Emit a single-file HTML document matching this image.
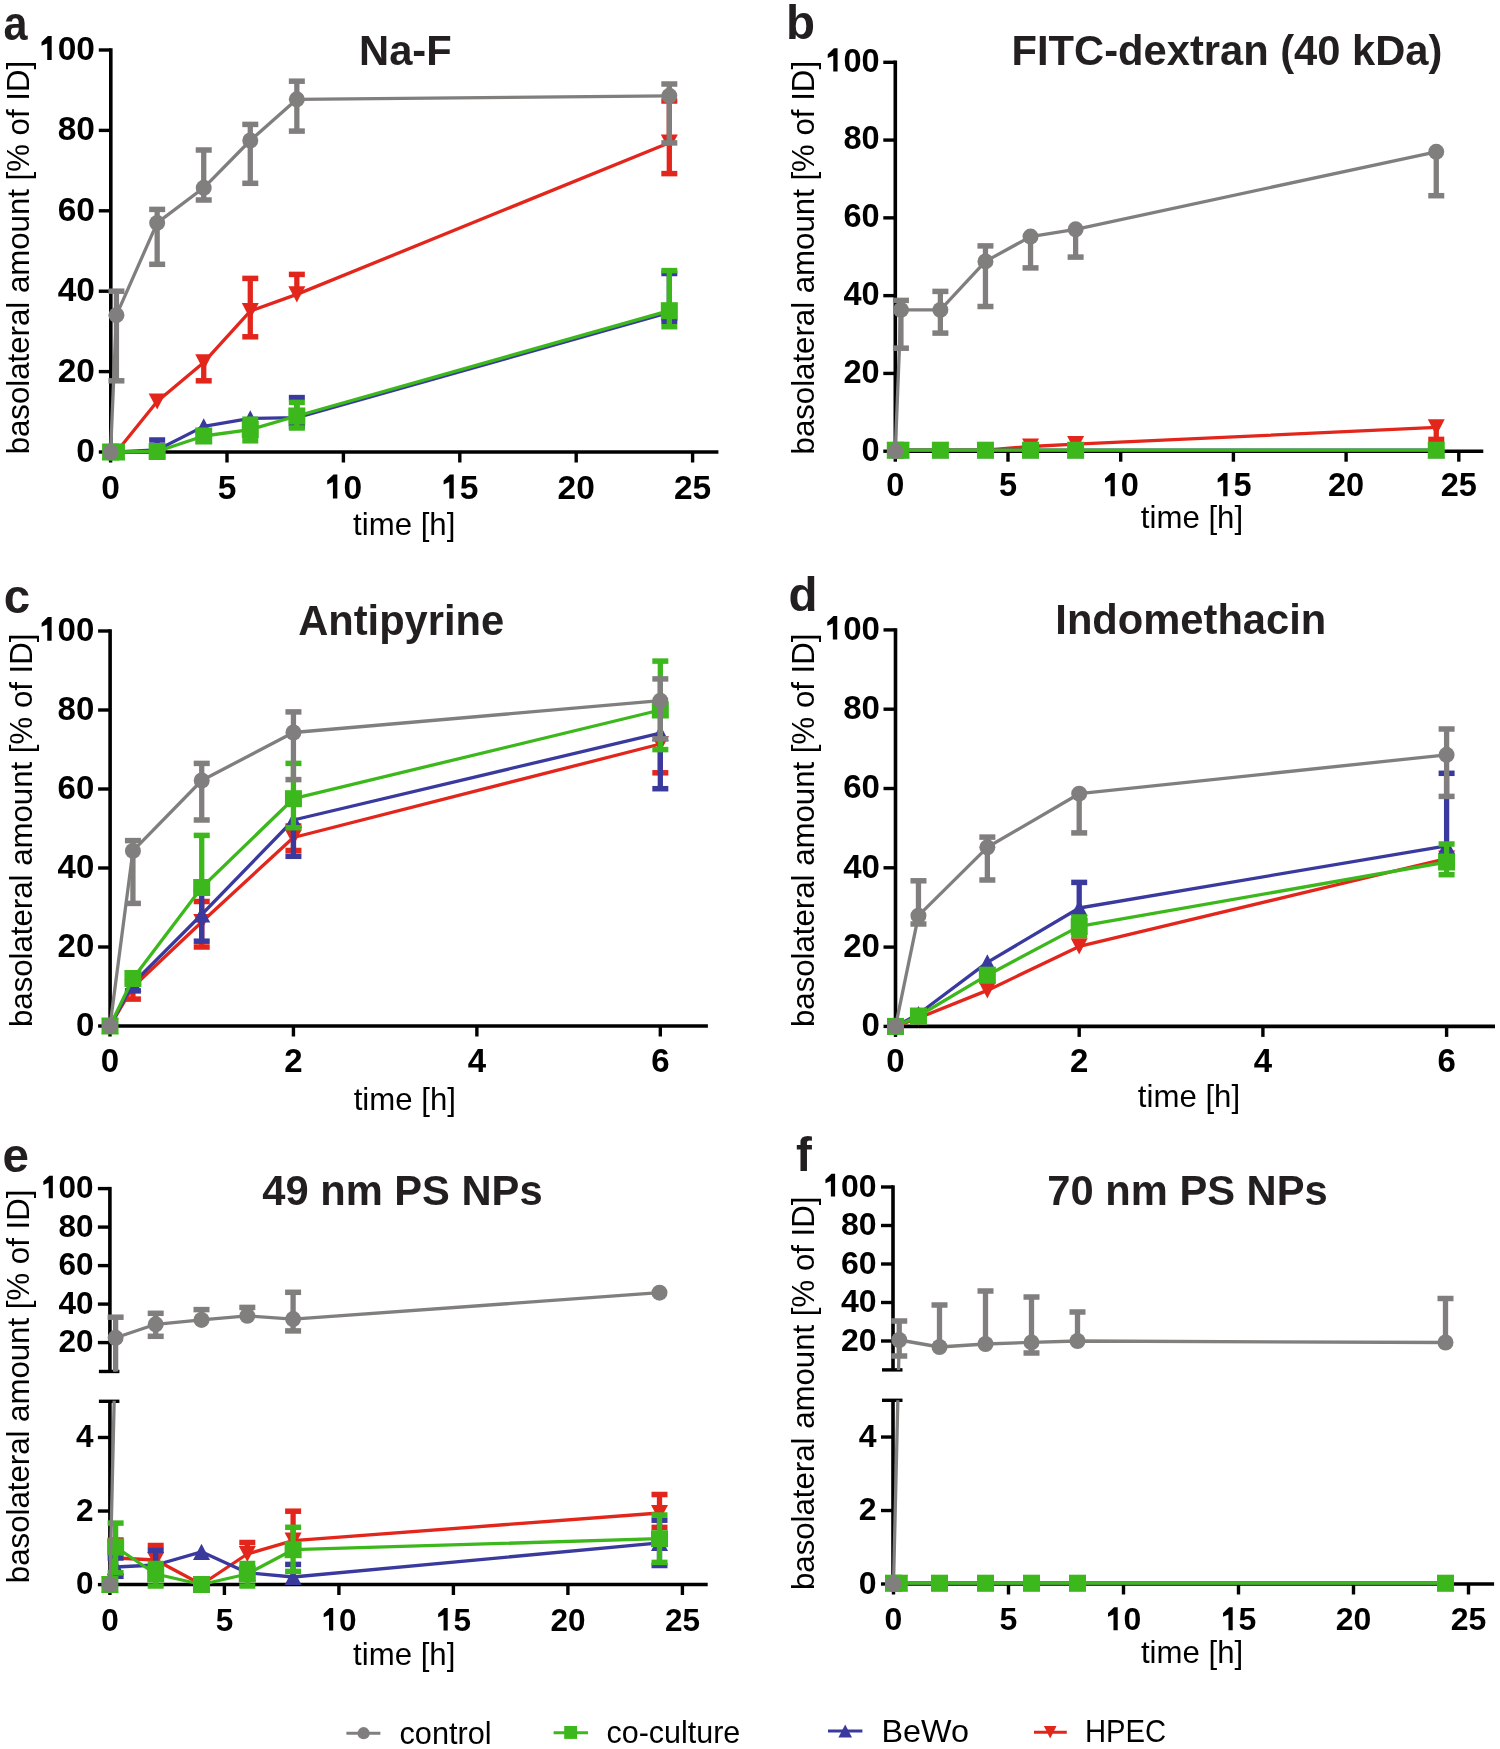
<!DOCTYPE html>
<html><head><meta charset="utf-8"><title>Figure</title><style>html,body{margin:0;padding:0;background:#fff;}svg{display:block;}text{font-family:"Liberation Sans",sans-serif;}</style></head><body>
<svg style="will-change:transform" width="1500" height="1749" viewBox="0 0 1500 1749">
<rect width="1500" height="1749" fill="#fff"/>
<defs><clipPath id="eT"><rect x="0" y="1100" width="750" height="271.47"/></clipPath><clipPath id="eB"><rect x="0" y="1400.7" width="750" height="300"/></clipPath><clipPath id="fT"><rect x="750" y="1100" width="750" height="269.88"/></clipPath><clipPath id="fB"><rect x="750" y="1400.3" width="750" height="300"/></clipPath></defs>
<line x1="110.8" y1="48.3" x2="110.8" y2="452" stroke="#000" stroke-width="3.6"/><line x1="109" y1="452" x2="718.4" y2="452" stroke="#000" stroke-width="3.6"/><line x1="98.8" y1="452" x2="110.8" y2="452" stroke="#000" stroke-width="3.4"/><text x="76.37" y="461.9" font-size="33.5" font-weight="bold" fill="#000">0</text><line x1="98.8" y1="371.6" x2="110.8" y2="371.6" stroke="#000" stroke-width="3.4"/><text x="57.73" y="381.5" font-size="33.5" font-weight="bold" fill="#000">2</text><text x="76.37" y="381.5" font-size="33.5" font-weight="bold" fill="#000">0</text><line x1="98.8" y1="291.2" x2="110.8" y2="291.2" stroke="#000" stroke-width="3.4"/><text x="57.73" y="301.1" font-size="33.5" font-weight="bold" fill="#000">4</text><text x="76.37" y="301.1" font-size="33.5" font-weight="bold" fill="#000">0</text><line x1="98.8" y1="210.8" x2="110.8" y2="210.8" stroke="#000" stroke-width="3.4"/><text x="57.73" y="220.7" font-size="33.5" font-weight="bold" fill="#000">6</text><text x="76.37" y="220.7" font-size="33.5" font-weight="bold" fill="#000">0</text><line x1="98.8" y1="130.4" x2="110.8" y2="130.4" stroke="#000" stroke-width="3.4"/><text x="57.73" y="140.3" font-size="33.5" font-weight="bold" fill="#000">8</text><text x="76.37" y="140.3" font-size="33.5" font-weight="bold" fill="#000">0</text><line x1="98.8" y1="50" x2="110.8" y2="50" stroke="#000" stroke-width="3.4"/><path transform="translate(39.1 59.9) scale(33.5)" d="M0.375 0L0.375 -0.716L0.262 -0.716L0.073 -0.535L0.073 -0.42L0.243 -0.49L0.243 0Z" fill="#000"/><text x="57.73" y="59.9" font-size="33.5" font-weight="bold" fill="#000">0</text><text x="76.37" y="59.9" font-size="33.5" font-weight="bold" fill="#000">0</text><line x1="110.6" y1="452" x2="110.6" y2="462.5" stroke="#000" stroke-width="3.4"/><text x="101.28" y="498.5" font-size="33.5" font-weight="bold" fill="#000">0</text><line x1="227" y1="452" x2="227" y2="462.5" stroke="#000" stroke-width="3.4"/><text x="217.68" y="498.5" font-size="33.5" font-weight="bold" fill="#000">5</text><line x1="343.4" y1="452" x2="343.4" y2="462.5" stroke="#000" stroke-width="3.4"/><path transform="translate(324.77 498.5) scale(33.5)" d="M0.375 0L0.375 -0.716L0.262 -0.716L0.073 -0.535L0.073 -0.42L0.243 -0.49L0.243 0Z" fill="#000"/><text x="343.4" y="498.5" font-size="33.5" font-weight="bold" fill="#000">0</text><line x1="459.8" y1="452" x2="459.8" y2="462.5" stroke="#000" stroke-width="3.4"/><path transform="translate(441.17 498.5) scale(33.5)" d="M0.375 0L0.375 -0.716L0.262 -0.716L0.073 -0.535L0.073 -0.42L0.243 -0.49L0.243 0Z" fill="#000"/><text x="459.8" y="498.5" font-size="33.5" font-weight="bold" fill="#000">5</text><line x1="576.2" y1="452" x2="576.2" y2="462.5" stroke="#000" stroke-width="3.4"/><text x="557.57" y="498.5" font-size="33.5" font-weight="bold" fill="#000">2</text><text x="576.2" y="498.5" font-size="33.5" font-weight="bold" fill="#000">0</text><line x1="692.6" y1="452" x2="692.6" y2="462.5" stroke="#000" stroke-width="3.4"/><text x="673.97" y="498.5" font-size="33.5" font-weight="bold" fill="#000">2</text><text x="692.6" y="498.5" font-size="33.5" font-weight="bold" fill="#000">5</text>
<line x1="895.3" y1="60.6" x2="895.3" y2="451.2" stroke="#000" stroke-width="3.6"/><line x1="893.5" y1="451.2" x2="1483.3" y2="451.2" stroke="#000" stroke-width="3.6"/><line x1="883.3" y1="451.2" x2="895.3" y2="451.2" stroke="#000" stroke-width="3.4"/><text x="861.52" y="460.5" font-size="32.5" font-weight="bold" fill="#000">0</text><line x1="883.3" y1="373.42" x2="895.3" y2="373.42" stroke="#000" stroke-width="3.4"/><text x="843.45" y="382.72" font-size="32.5" font-weight="bold" fill="#000">2</text><text x="861.52" y="382.72" font-size="32.5" font-weight="bold" fill="#000">0</text><line x1="883.3" y1="295.64" x2="895.3" y2="295.64" stroke="#000" stroke-width="3.4"/><text x="843.45" y="304.94" font-size="32.5" font-weight="bold" fill="#000">4</text><text x="861.52" y="304.94" font-size="32.5" font-weight="bold" fill="#000">0</text><line x1="883.3" y1="217.86" x2="895.3" y2="217.86" stroke="#000" stroke-width="3.4"/><text x="843.45" y="227.16" font-size="32.5" font-weight="bold" fill="#000">6</text><text x="861.52" y="227.16" font-size="32.5" font-weight="bold" fill="#000">0</text><line x1="883.3" y1="140.08" x2="895.3" y2="140.08" stroke="#000" stroke-width="3.4"/><text x="843.45" y="149.38" font-size="32.5" font-weight="bold" fill="#000">8</text><text x="861.52" y="149.38" font-size="32.5" font-weight="bold" fill="#000">0</text><line x1="883.3" y1="62.3" x2="895.3" y2="62.3" stroke="#000" stroke-width="3.4"/><path transform="translate(825.37 71.6) scale(32.5)" d="M0.375 0L0.375 -0.716L0.262 -0.716L0.073 -0.535L0.073 -0.42L0.243 -0.49L0.243 0Z" fill="#000"/><text x="843.45" y="71.6" font-size="32.5" font-weight="bold" fill="#000">0</text><text x="861.52" y="71.6" font-size="32.5" font-weight="bold" fill="#000">0</text><line x1="895.3" y1="451.2" x2="895.3" y2="461.7" stroke="#000" stroke-width="3.4"/><text x="886.26" y="496.2" font-size="32.5" font-weight="bold" fill="#000">0</text><line x1="1008" y1="451.2" x2="1008" y2="461.7" stroke="#000" stroke-width="3.4"/><text x="998.96" y="496.2" font-size="32.5" font-weight="bold" fill="#000">5</text><line x1="1120.7" y1="451.2" x2="1120.7" y2="461.7" stroke="#000" stroke-width="3.4"/><path transform="translate(1102.62 496.2) scale(32.5)" d="M0.375 0L0.375 -0.716L0.262 -0.716L0.073 -0.535L0.073 -0.42L0.243 -0.49L0.243 0Z" fill="#000"/><text x="1120.7" y="496.2" font-size="32.5" font-weight="bold" fill="#000">0</text><line x1="1233.4" y1="451.2" x2="1233.4" y2="461.7" stroke="#000" stroke-width="3.4"/><path transform="translate(1215.32 496.2) scale(32.5)" d="M0.375 0L0.375 -0.716L0.262 -0.716L0.073 -0.535L0.073 -0.42L0.243 -0.49L0.243 0Z" fill="#000"/><text x="1233.4" y="496.2" font-size="32.5" font-weight="bold" fill="#000">5</text><line x1="1346.1" y1="451.2" x2="1346.1" y2="461.7" stroke="#000" stroke-width="3.4"/><text x="1328.02" y="496.2" font-size="32.5" font-weight="bold" fill="#000">2</text><text x="1346.1" y="496.2" font-size="32.5" font-weight="bold" fill="#000">0</text><line x1="1458.8" y1="451.2" x2="1458.8" y2="461.7" stroke="#000" stroke-width="3.4"/><text x="1440.72" y="496.2" font-size="32.5" font-weight="bold" fill="#000">2</text><text x="1458.8" y="496.2" font-size="32.5" font-weight="bold" fill="#000">5</text>
<line x1="110.1" y1="629.3" x2="110.1" y2="1026" stroke="#000" stroke-width="3.6"/><line x1="108.3" y1="1026" x2="707.9" y2="1026" stroke="#000" stroke-width="3.6"/><line x1="98.1" y1="1026" x2="110.1" y2="1026" stroke="#000" stroke-width="3.4"/><text x="75.95" y="1035.7" font-size="33" font-weight="bold" fill="#000">0</text><line x1="98.1" y1="947" x2="110.1" y2="947" stroke="#000" stroke-width="3.4"/><text x="57.59" y="956.7" font-size="33" font-weight="bold" fill="#000">2</text><text x="75.95" y="956.7" font-size="33" font-weight="bold" fill="#000">0</text><line x1="98.1" y1="868" x2="110.1" y2="868" stroke="#000" stroke-width="3.4"/><text x="57.59" y="877.7" font-size="33" font-weight="bold" fill="#000">4</text><text x="75.95" y="877.7" font-size="33" font-weight="bold" fill="#000">0</text><line x1="98.1" y1="789" x2="110.1" y2="789" stroke="#000" stroke-width="3.4"/><text x="57.59" y="798.7" font-size="33" font-weight="bold" fill="#000">6</text><text x="75.95" y="798.7" font-size="33" font-weight="bold" fill="#000">0</text><line x1="98.1" y1="710" x2="110.1" y2="710" stroke="#000" stroke-width="3.4"/><text x="57.59" y="719.7" font-size="33" font-weight="bold" fill="#000">8</text><text x="75.95" y="719.7" font-size="33" font-weight="bold" fill="#000">0</text><line x1="98.1" y1="631" x2="110.1" y2="631" stroke="#000" stroke-width="3.4"/><path transform="translate(39.24 640.7) scale(33)" d="M0.375 0L0.375 -0.716L0.262 -0.716L0.073 -0.535L0.073 -0.42L0.243 -0.49L0.243 0Z" fill="#000"/><text x="57.59" y="640.7" font-size="33" font-weight="bold" fill="#000">0</text><text x="75.95" y="640.7" font-size="33" font-weight="bold" fill="#000">0</text><line x1="110" y1="1026" x2="110" y2="1036.5" stroke="#000" stroke-width="3.4"/><text x="100.82" y="1072" font-size="33" font-weight="bold" fill="#000">0</text><line x1="293.44" y1="1026" x2="293.44" y2="1036.5" stroke="#000" stroke-width="3.4"/><text x="284.26" y="1072" font-size="33" font-weight="bold" fill="#000">2</text><line x1="476.88" y1="1026" x2="476.88" y2="1036.5" stroke="#000" stroke-width="3.4"/><text x="467.7" y="1072" font-size="33" font-weight="bold" fill="#000">4</text><line x1="660.32" y1="1026" x2="660.32" y2="1036.5" stroke="#000" stroke-width="3.4"/><text x="651.14" y="1072" font-size="33" font-weight="bold" fill="#000">6</text>
<line x1="895.5" y1="628.2" x2="895.5" y2="1026.4" stroke="#000" stroke-width="3.6"/><line x1="893.7" y1="1026.4" x2="1495" y2="1026.4" stroke="#000" stroke-width="3.6"/><line x1="883.5" y1="1026.4" x2="895.5" y2="1026.4" stroke="#000" stroke-width="3.4"/><text x="861.55" y="1036.1" font-size="33" font-weight="bold" fill="#000">0</text><line x1="883.5" y1="947.1" x2="895.5" y2="947.1" stroke="#000" stroke-width="3.4"/><text x="843.19" y="956.8" font-size="33" font-weight="bold" fill="#000">2</text><text x="861.55" y="956.8" font-size="33" font-weight="bold" fill="#000">0</text><line x1="883.5" y1="867.8" x2="895.5" y2="867.8" stroke="#000" stroke-width="3.4"/><text x="843.19" y="877.5" font-size="33" font-weight="bold" fill="#000">4</text><text x="861.55" y="877.5" font-size="33" font-weight="bold" fill="#000">0</text><line x1="883.5" y1="788.5" x2="895.5" y2="788.5" stroke="#000" stroke-width="3.4"/><text x="843.19" y="798.2" font-size="33" font-weight="bold" fill="#000">6</text><text x="861.55" y="798.2" font-size="33" font-weight="bold" fill="#000">0</text><line x1="883.5" y1="709.2" x2="895.5" y2="709.2" stroke="#000" stroke-width="3.4"/><text x="843.19" y="718.9" font-size="33" font-weight="bold" fill="#000">8</text><text x="861.55" y="718.9" font-size="33" font-weight="bold" fill="#000">0</text><line x1="883.5" y1="629.9" x2="895.5" y2="629.9" stroke="#000" stroke-width="3.4"/><path transform="translate(824.84 639.6) scale(33)" d="M0.375 0L0.375 -0.716L0.262 -0.716L0.073 -0.535L0.073 -0.42L0.243 -0.49L0.243 0Z" fill="#000"/><text x="843.19" y="639.6" font-size="33" font-weight="bold" fill="#000">0</text><text x="861.55" y="639.6" font-size="33" font-weight="bold" fill="#000">0</text><line x1="895.5" y1="1026.4" x2="895.5" y2="1036.9" stroke="#000" stroke-width="3.4"/><text x="886.32" y="1072" font-size="33" font-weight="bold" fill="#000">0</text><line x1="1079.2" y1="1026.4" x2="1079.2" y2="1036.9" stroke="#000" stroke-width="3.4"/><text x="1070.02" y="1072" font-size="33" font-weight="bold" fill="#000">2</text><line x1="1262.9" y1="1026.4" x2="1262.9" y2="1036.9" stroke="#000" stroke-width="3.4"/><text x="1253.72" y="1072" font-size="33" font-weight="bold" fill="#000">4</text><line x1="1446.6" y1="1026.4" x2="1446.6" y2="1036.9" stroke="#000" stroke-width="3.4"/><text x="1437.42" y="1072" font-size="33" font-weight="bold" fill="#000">6</text>
<line x1="109.9" y1="1186.9" x2="109.9" y2="1371.47" stroke="#000" stroke-width="3.6"/><line x1="109.9" y1="1401.3" x2="109.9" y2="1584.5" stroke="#000" stroke-width="3.6"/><line x1="108.1" y1="1584.5" x2="707.7" y2="1584.5" stroke="#000" stroke-width="3.6"/><line x1="97.9" y1="1342.6" x2="109.9" y2="1342.6" stroke="#000" stroke-width="3.4"/><text x="58.56" y="1352.2" font-size="31.5" font-weight="bold" fill="#000">2</text><text x="76.08" y="1352.2" font-size="31.5" font-weight="bold" fill="#000">0</text><line x1="97.9" y1="1304.1" x2="109.9" y2="1304.1" stroke="#000" stroke-width="3.4"/><text x="58.56" y="1313.7" font-size="31.5" font-weight="bold" fill="#000">4</text><text x="76.08" y="1313.7" font-size="31.5" font-weight="bold" fill="#000">0</text><line x1="97.9" y1="1265.6" x2="109.9" y2="1265.6" stroke="#000" stroke-width="3.4"/><text x="58.56" y="1275.2" font-size="31.5" font-weight="bold" fill="#000">6</text><text x="76.08" y="1275.2" font-size="31.5" font-weight="bold" fill="#000">0</text><line x1="97.9" y1="1227.1" x2="109.9" y2="1227.1" stroke="#000" stroke-width="3.4"/><text x="58.56" y="1236.7" font-size="31.5" font-weight="bold" fill="#000">8</text><text x="76.08" y="1236.7" font-size="31.5" font-weight="bold" fill="#000">0</text><line x1="97.9" y1="1188.6" x2="109.9" y2="1188.6" stroke="#000" stroke-width="3.4"/><path transform="translate(41.04 1198.2) scale(31.5)" d="M0.375 0L0.375 -0.716L0.262 -0.716L0.073 -0.535L0.073 -0.42L0.243 -0.49L0.243 0Z" fill="#000"/><text x="58.56" y="1198.2" font-size="31.5" font-weight="bold" fill="#000">0</text><text x="76.08" y="1198.2" font-size="31.5" font-weight="bold" fill="#000">0</text><line x1="97.9" y1="1584.6" x2="109.9" y2="1584.6" stroke="#000" stroke-width="3.4"/><text x="76.08" y="1594.2" font-size="31.5" font-weight="bold" fill="#000">0</text><line x1="97.9" y1="1511.04" x2="109.9" y2="1511.04" stroke="#000" stroke-width="3.4"/><text x="76.08" y="1520.64" font-size="31.5" font-weight="bold" fill="#000">2</text><line x1="97.9" y1="1437.48" x2="109.9" y2="1437.48" stroke="#000" stroke-width="3.4"/><text x="76.08" y="1447.08" font-size="31.5" font-weight="bold" fill="#000">4</text><line x1="98.9" y1="1371.47" x2="119.4" y2="1371.47" stroke="#000" stroke-width="3.4"/><line x1="98.9" y1="1401.3" x2="119.4" y2="1401.3" stroke="#000" stroke-width="3.4"/><line x1="109.9" y1="1584.5" x2="109.9" y2="1595" stroke="#000" stroke-width="3.4"/><text x="101.14" y="1630.5" font-size="31.5" font-weight="bold" fill="#000">0</text><line x1="224.4" y1="1584.5" x2="224.4" y2="1595" stroke="#000" stroke-width="3.4"/><text x="215.64" y="1630.5" font-size="31.5" font-weight="bold" fill="#000">5</text><line x1="338.9" y1="1584.5" x2="338.9" y2="1595" stroke="#000" stroke-width="3.4"/><path transform="translate(321.38 1630.5) scale(31.5)" d="M0.375 0L0.375 -0.716L0.262 -0.716L0.073 -0.535L0.073 -0.42L0.243 -0.49L0.243 0Z" fill="#000"/><text x="338.9" y="1630.5" font-size="31.5" font-weight="bold" fill="#000">0</text><line x1="453.4" y1="1584.5" x2="453.4" y2="1595" stroke="#000" stroke-width="3.4"/><path transform="translate(435.88 1630.5) scale(31.5)" d="M0.375 0L0.375 -0.716L0.262 -0.716L0.073 -0.535L0.073 -0.42L0.243 -0.49L0.243 0Z" fill="#000"/><text x="453.4" y="1630.5" font-size="31.5" font-weight="bold" fill="#000">5</text><line x1="567.9" y1="1584.5" x2="567.9" y2="1595" stroke="#000" stroke-width="3.4"/><text x="550.38" y="1630.5" font-size="31.5" font-weight="bold" fill="#000">2</text><text x="567.9" y="1630.5" font-size="31.5" font-weight="bold" fill="#000">0</text><line x1="682.4" y1="1584.5" x2="682.4" y2="1595" stroke="#000" stroke-width="3.4"/><text x="664.88" y="1630.5" font-size="31.5" font-weight="bold" fill="#000">2</text><text x="682.4" y="1630.5" font-size="31.5" font-weight="bold" fill="#000">5</text>
<line x1="893" y1="1185.3" x2="893" y2="1369.88" stroke="#000" stroke-width="3.6"/><line x1="893" y1="1400.3" x2="893" y2="1584" stroke="#000" stroke-width="3.6"/><line x1="891.2" y1="1584" x2="1494.1" y2="1584" stroke="#000" stroke-width="3.6"/><line x1="881" y1="1341" x2="893" y2="1341" stroke="#000" stroke-width="3.4"/><text x="840.9" y="1350.6" font-size="32" font-weight="bold" fill="#000">2</text><text x="858.7" y="1350.6" font-size="32" font-weight="bold" fill="#000">0</text><line x1="881" y1="1302.5" x2="893" y2="1302.5" stroke="#000" stroke-width="3.4"/><text x="840.9" y="1312.1" font-size="32" font-weight="bold" fill="#000">4</text><text x="858.7" y="1312.1" font-size="32" font-weight="bold" fill="#000">0</text><line x1="881" y1="1264" x2="893" y2="1264" stroke="#000" stroke-width="3.4"/><text x="840.9" y="1273.6" font-size="32" font-weight="bold" fill="#000">6</text><text x="858.7" y="1273.6" font-size="32" font-weight="bold" fill="#000">0</text><line x1="881" y1="1225.5" x2="893" y2="1225.5" stroke="#000" stroke-width="3.4"/><text x="840.9" y="1235.1" font-size="32" font-weight="bold" fill="#000">8</text><text x="858.7" y="1235.1" font-size="32" font-weight="bold" fill="#000">0</text><line x1="881" y1="1187" x2="893" y2="1187" stroke="#000" stroke-width="3.4"/><path transform="translate(823.1 1196.6) scale(32)" d="M0.375 0L0.375 -0.716L0.262 -0.716L0.073 -0.535L0.073 -0.42L0.243 -0.49L0.243 0Z" fill="#000"/><text x="840.9" y="1196.6" font-size="32" font-weight="bold" fill="#000">0</text><text x="858.7" y="1196.6" font-size="32" font-weight="bold" fill="#000">0</text><line x1="881" y1="1584" x2="893" y2="1584" stroke="#000" stroke-width="3.4"/><text x="858.7" y="1593.6" font-size="32" font-weight="bold" fill="#000">0</text><line x1="881" y1="1510.52" x2="893" y2="1510.52" stroke="#000" stroke-width="3.4"/><text x="858.7" y="1520.12" font-size="32" font-weight="bold" fill="#000">2</text><line x1="881" y1="1437.04" x2="893" y2="1437.04" stroke="#000" stroke-width="3.4"/><text x="858.7" y="1446.64" font-size="32" font-weight="bold" fill="#000">4</text><line x1="882" y1="1369.88" x2="902.5" y2="1369.88" stroke="#000" stroke-width="3.4"/><line x1="882" y1="1400.3" x2="902.5" y2="1400.3" stroke="#000" stroke-width="3.4"/><line x1="893.5" y1="1584" x2="893.5" y2="1594.5" stroke="#000" stroke-width="3.4"/><text x="884.6" y="1630.2" font-size="32" font-weight="bold" fill="#000">0</text><line x1="1008.5" y1="1584" x2="1008.5" y2="1594.5" stroke="#000" stroke-width="3.4"/><text x="999.6" y="1630.2" font-size="32" font-weight="bold" fill="#000">5</text><line x1="1123.5" y1="1584" x2="1123.5" y2="1594.5" stroke="#000" stroke-width="3.4"/><path transform="translate(1105.7 1630.2) scale(32)" d="M0.375 0L0.375 -0.716L0.262 -0.716L0.073 -0.535L0.073 -0.42L0.243 -0.49L0.243 0Z" fill="#000"/><text x="1123.5" y="1630.2" font-size="32" font-weight="bold" fill="#000">0</text><line x1="1238.5" y1="1584" x2="1238.5" y2="1594.5" stroke="#000" stroke-width="3.4"/><path transform="translate(1220.7 1630.2) scale(32)" d="M0.375 0L0.375 -0.716L0.262 -0.716L0.073 -0.535L0.073 -0.42L0.243 -0.49L0.243 0Z" fill="#000"/><text x="1238.5" y="1630.2" font-size="32" font-weight="bold" fill="#000">5</text><line x1="1353.5" y1="1584" x2="1353.5" y2="1594.5" stroke="#000" stroke-width="3.4"/><text x="1335.7" y="1630.2" font-size="32" font-weight="bold" fill="#000">2</text><text x="1353.5" y="1630.2" font-size="32" font-weight="bold" fill="#000">0</text><line x1="1468.5" y1="1584" x2="1468.5" y2="1594.5" stroke="#000" stroke-width="3.4"/><text x="1450.7" y="1630.2" font-size="32" font-weight="bold" fill="#000">2</text><text x="1468.5" y="1630.2" font-size="32" font-weight="bold" fill="#000">5</text>
<path d="M110.6 452L116.42 452L157.16 401.5L203.72 362.4L250.28 311.2L296.84 294.4L669.32 142.7" fill="none" stroke="#e3261c" stroke-width="3.3" stroke-linejoin="round"/><g></g><g></g><g></g><g><line x1="203.72" y1="362.4" x2="203.72" y2="380.8" stroke="#e3261c" stroke-width="5.3"/><rect x="195.72" y="378.05" width="16" height="5.5" fill="#e3261c"/></g><g><line x1="250.28" y1="311.2" x2="250.28" y2="278.4" stroke="#e3261c" stroke-width="5.3"/><rect x="242.28" y="275.65" width="16" height="5.5" fill="#e3261c"/><line x1="250.28" y1="311.2" x2="250.28" y2="336.8" stroke="#e3261c" stroke-width="5.3"/><rect x="242.28" y="334.05" width="16" height="5.5" fill="#e3261c"/></g><g><line x1="296.84" y1="294.4" x2="296.84" y2="274.4" stroke="#e3261c" stroke-width="5.3"/><rect x="288.84" y="271.65" width="16" height="5.5" fill="#e3261c"/></g><g><line x1="669.32" y1="142.7" x2="669.32" y2="101" stroke="#e3261c" stroke-width="5.3"/><rect x="661.32" y="98.25" width="16" height="5.5" fill="#e3261c"/><line x1="669.32" y1="142.7" x2="669.32" y2="173.6" stroke="#e3261c" stroke-width="5.3"/><rect x="661.32" y="170.85" width="16" height="5.5" fill="#e3261c"/></g><g><path d="M102.1 443.93L119.1 443.93L110.6 460.07Z" fill="#e3261c"/></g><g><path d="M107.92 443.93L124.92 443.93L116.42 460.07Z" fill="#e3261c"/></g><g><path d="M148.66 393.43L165.66 393.43L157.16 409.57Z" fill="#e3261c"/></g><g><path d="M195.22 354.32L212.22 354.32L203.72 370.47Z" fill="#e3261c"/></g><g><path d="M241.78 303.12L258.78 303.12L250.28 319.27Z" fill="#e3261c"/></g><g><path d="M288.34 286.32L305.34 286.32L296.84 302.47Z" fill="#e3261c"/></g><g><path d="M660.82 134.62L677.82 134.62L669.32 150.77Z" fill="#e3261c"/></g>
<path d="M110.6 452L116.42 452L157.16 450L203.72 426.4L250.28 418.4L296.84 417.6L669.32 312.5" fill="none" stroke="#3a3a9e" stroke-width="3.3" stroke-linejoin="round"/><g></g><g></g><g><line x1="157.16" y1="450" x2="157.16" y2="440" stroke="#3a3a9e" stroke-width="5.3"/><rect x="149.16" y="437.25" width="16" height="5.5" fill="#3a3a9e"/></g><g></g><g></g><g><line x1="296.84" y1="417.6" x2="296.84" y2="397.6" stroke="#3a3a9e" stroke-width="5.3"/><rect x="288.84" y="394.85" width="16" height="5.5" fill="#3a3a9e"/><line x1="296.84" y1="417.6" x2="296.84" y2="426.4" stroke="#3a3a9e" stroke-width="5.3"/><rect x="288.84" y="423.65" width="16" height="5.5" fill="#3a3a9e"/></g><g><line x1="669.32" y1="312.5" x2="669.32" y2="273.5" stroke="#3a3a9e" stroke-width="5.3"/><rect x="661.32" y="270.75" width="16" height="5.5" fill="#3a3a9e"/><line x1="669.32" y1="312.5" x2="669.32" y2="321.3" stroke="#3a3a9e" stroke-width="5.3"/><rect x="661.32" y="318.55" width="16" height="5.5" fill="#3a3a9e"/></g><g><path d="M110.6 443.93L119.1 460.07L102.1 460.07Z" fill="#3a3a9e"/></g><g><path d="M116.42 443.93L124.92 460.07L107.92 460.07Z" fill="#3a3a9e"/></g><g><path d="M157.16 441.93L165.66 458.07L148.66 458.07Z" fill="#3a3a9e"/></g><g><path d="M203.72 418.32L212.22 434.47L195.22 434.47Z" fill="#3a3a9e"/></g><g><path d="M250.28 410.32L258.78 426.47L241.78 426.47Z" fill="#3a3a9e"/></g><g><path d="M296.84 409.53L305.34 425.68L288.34 425.68Z" fill="#3a3a9e"/></g><g><path d="M669.32 304.43L677.82 320.57L660.82 320.57Z" fill="#3a3a9e"/></g>
<path d="M110.6 452L116.42 452L157.16 451.5L203.72 436L250.28 429.6L296.84 416L669.32 310.7" fill="none" stroke="#3cb81c" stroke-width="3.3" stroke-linejoin="round"/><g></g><g></g><g></g><g></g><g><line x1="250.28" y1="429.6" x2="250.28" y2="419.2" stroke="#3cb81c" stroke-width="5.3"/><rect x="242.28" y="416.45" width="16" height="5.5" fill="#3cb81c"/><line x1="250.28" y1="429.6" x2="250.28" y2="440.8" stroke="#3cb81c" stroke-width="5.3"/><rect x="242.28" y="438.05" width="16" height="5.5" fill="#3cb81c"/></g><g><line x1="296.84" y1="416" x2="296.84" y2="402.4" stroke="#3cb81c" stroke-width="5.3"/><rect x="288.84" y="399.65" width="16" height="5.5" fill="#3cb81c"/><line x1="296.84" y1="416" x2="296.84" y2="428" stroke="#3cb81c" stroke-width="5.3"/><rect x="288.84" y="425.25" width="16" height="5.5" fill="#3cb81c"/></g><g><line x1="669.32" y1="310.7" x2="669.32" y2="270.6" stroke="#3cb81c" stroke-width="5.3"/><rect x="661.32" y="267.85" width="16" height="5.5" fill="#3cb81c"/><line x1="669.32" y1="310.7" x2="669.32" y2="326.7" stroke="#3cb81c" stroke-width="5.3"/><rect x="661.32" y="323.95" width="16" height="5.5" fill="#3cb81c"/></g><g><rect x="102.1" y="443.5" width="17" height="17" fill="#3cb81c"/></g><g><rect x="107.92" y="443.5" width="17" height="17" fill="#3cb81c"/></g><g><rect x="148.66" y="443" width="17" height="17" fill="#3cb81c"/></g><g><rect x="195.22" y="427.5" width="17" height="17" fill="#3cb81c"/></g><g><rect x="241.78" y="421.1" width="17" height="17" fill="#3cb81c"/></g><g><rect x="288.34" y="407.5" width="17" height="17" fill="#3cb81c"/></g><g><rect x="660.82" y="302.2" width="17" height="17" fill="#3cb81c"/></g>
<path d="M110.6 452L116.42 315.2L157.16 222.9L203.72 187.8L250.28 140.5L296.84 99.3L669.32 95.8" fill="none" stroke="#807f7e" stroke-width="3.3" stroke-linejoin="round"/><g></g><g><line x1="116.42" y1="315.2" x2="116.42" y2="291.2" stroke="#807f7e" stroke-width="5.3"/><rect x="108.42" y="288.45" width="16" height="5.5" fill="#807f7e"/><line x1="116.42" y1="315.2" x2="116.42" y2="380.8" stroke="#807f7e" stroke-width="5.3"/><rect x="108.42" y="378.05" width="16" height="5.5" fill="#807f7e"/></g><g><line x1="157.16" y1="222.9" x2="157.16" y2="209.4" stroke="#807f7e" stroke-width="5.3"/><rect x="149.16" y="206.65" width="16" height="5.5" fill="#807f7e"/><line x1="157.16" y1="222.9" x2="157.16" y2="264.3" stroke="#807f7e" stroke-width="5.3"/><rect x="149.16" y="261.55" width="16" height="5.5" fill="#807f7e"/></g><g><line x1="203.72" y1="187.8" x2="203.72" y2="150" stroke="#807f7e" stroke-width="5.3"/><rect x="195.72" y="147.25" width="16" height="5.5" fill="#807f7e"/><line x1="203.72" y1="187.8" x2="203.72" y2="200" stroke="#807f7e" stroke-width="5.3"/><rect x="195.72" y="197.25" width="16" height="5.5" fill="#807f7e"/></g><g><line x1="250.28" y1="140.5" x2="250.28" y2="124.4" stroke="#807f7e" stroke-width="5.3"/><rect x="242.28" y="121.65" width="16" height="5.5" fill="#807f7e"/><line x1="250.28" y1="140.5" x2="250.28" y2="183.3" stroke="#807f7e" stroke-width="5.3"/><rect x="242.28" y="180.55" width="16" height="5.5" fill="#807f7e"/></g><g><line x1="296.84" y1="99.3" x2="296.84" y2="81.2" stroke="#807f7e" stroke-width="5.3"/><rect x="288.84" y="78.45" width="16" height="5.5" fill="#807f7e"/><line x1="296.84" y1="99.3" x2="296.84" y2="131.1" stroke="#807f7e" stroke-width="5.3"/><rect x="288.84" y="128.35" width="16" height="5.5" fill="#807f7e"/></g><g><line x1="669.32" y1="95.8" x2="669.32" y2="84" stroke="#807f7e" stroke-width="5.3"/><rect x="661.32" y="81.25" width="16" height="5.5" fill="#807f7e"/><line x1="669.32" y1="95.8" x2="669.32" y2="142.9" stroke="#807f7e" stroke-width="5.3"/><rect x="661.32" y="140.15" width="16" height="5.5" fill="#807f7e"/></g><g><circle cx="110.6" cy="452" r="8" fill="#807f7e"/></g><g><circle cx="116.42" cy="315.2" r="8" fill="#807f7e"/></g><g><circle cx="157.16" cy="222.9" r="8" fill="#807f7e"/></g><g><circle cx="203.72" cy="187.8" r="8" fill="#807f7e"/></g><g><circle cx="250.28" cy="140.5" r="8" fill="#807f7e"/></g><g><circle cx="296.84" cy="99.3" r="8" fill="#807f7e"/></g><g><circle cx="669.32" cy="95.8" r="8" fill="#807f7e"/></g>
<path d="M895.3 450.2L900.93 450.2L940.38 450.2L985.46 450.2L1030.54 446.5L1075.62 444.2L1436.26 427.4" fill="none" stroke="#e3261c" stroke-width="3.3" stroke-linejoin="round"/><g></g><g></g><g></g><g></g><g></g><g></g><g><line x1="1436.26" y1="427.4" x2="1436.26" y2="439.4" stroke="#e3261c" stroke-width="5.3"/><rect x="1428.26" y="436.65" width="16" height="5.5" fill="#e3261c"/></g><g><path d="M886.8 442.12L903.8 442.12L895.3 458.27Z" fill="#e3261c"/></g><g><path d="M892.43 442.12L909.43 442.12L900.93 458.27Z" fill="#e3261c"/></g><g><path d="M931.88 442.12L948.88 442.12L940.38 458.27Z" fill="#e3261c"/></g><g><path d="M976.96 442.12L993.96 442.12L985.46 458.27Z" fill="#e3261c"/></g><g><path d="M1022.04 438.43L1039.04 438.43L1030.54 454.57Z" fill="#e3261c"/></g><g><path d="M1067.12 436.12L1084.12 436.12L1075.62 452.27Z" fill="#e3261c"/></g><g><path d="M1427.76 419.32L1444.76 419.32L1436.26 435.47Z" fill="#e3261c"/></g>
<path d="M895.3 450.2L900.93 450.2L940.38 450.2L985.46 450.2L1030.54 450.2L1075.62 450.2L1436.26 450.2" fill="none" stroke="#3a3a9e" stroke-width="3.3" stroke-linejoin="round"/><g></g><g></g><g></g><g></g><g></g><g></g><g></g><g><path d="M895.3 442.12L903.8 458.27L886.8 458.27Z" fill="#3a3a9e"/></g><g><path d="M900.93 442.12L909.43 458.27L892.43 458.27Z" fill="#3a3a9e"/></g><g><path d="M940.38 442.12L948.88 458.27L931.88 458.27Z" fill="#3a3a9e"/></g><g><path d="M985.46 442.12L993.96 458.27L976.96 458.27Z" fill="#3a3a9e"/></g><g><path d="M1030.54 442.12L1039.04 458.27L1022.04 458.27Z" fill="#3a3a9e"/></g><g><path d="M1075.62 442.12L1084.12 458.27L1067.12 458.27Z" fill="#3a3a9e"/></g><g><path d="M1436.26 442.12L1444.76 458.27L1427.76 458.27Z" fill="#3a3a9e"/></g>
<path d="M895.3 450.2L900.93 450.2L940.38 450.2L985.46 450.2L1030.54 450.2L1075.62 450.2L1436.26 450.2" fill="none" stroke="#3cb81c" stroke-width="3.3" stroke-linejoin="round"/><g></g><g></g><g></g><g></g><g></g><g></g><g></g><g><rect x="886.8" y="441.7" width="17" height="17" fill="#3cb81c"/></g><g><rect x="892.43" y="441.7" width="17" height="17" fill="#3cb81c"/></g><g><rect x="931.88" y="441.7" width="17" height="17" fill="#3cb81c"/></g><g><rect x="976.96" y="441.7" width="17" height="17" fill="#3cb81c"/></g><g><rect x="1022.04" y="441.7" width="17" height="17" fill="#3cb81c"/></g><g><rect x="1067.12" y="441.7" width="17" height="17" fill="#3cb81c"/></g><g><rect x="1427.76" y="441.7" width="17" height="17" fill="#3cb81c"/></g>
<path d="M895.3 451.2L900.93 309.9L940.38 309.9L985.46 261.4L1030.54 236.6L1075.62 229.3L1436.26 151.8" fill="none" stroke="#807f7e" stroke-width="3.3" stroke-linejoin="round"/><g></g><g><line x1="900.93" y1="309.9" x2="900.93" y2="300.4" stroke="#807f7e" stroke-width="5.3"/><rect x="892.93" y="297.65" width="16" height="5.5" fill="#807f7e"/><line x1="900.93" y1="309.9" x2="900.93" y2="348.2" stroke="#807f7e" stroke-width="5.3"/><rect x="892.93" y="345.45" width="16" height="5.5" fill="#807f7e"/></g><g><line x1="940.38" y1="309.9" x2="940.38" y2="291.4" stroke="#807f7e" stroke-width="5.3"/><rect x="932.38" y="288.65" width="16" height="5.5" fill="#807f7e"/><line x1="940.38" y1="309.9" x2="940.38" y2="333.1" stroke="#807f7e" stroke-width="5.3"/><rect x="932.38" y="330.35" width="16" height="5.5" fill="#807f7e"/></g><g><line x1="985.46" y1="261.4" x2="985.46" y2="245.9" stroke="#807f7e" stroke-width="5.3"/><rect x="977.46" y="243.15" width="16" height="5.5" fill="#807f7e"/><line x1="985.46" y1="261.4" x2="985.46" y2="306.5" stroke="#807f7e" stroke-width="5.3"/><rect x="977.46" y="303.75" width="16" height="5.5" fill="#807f7e"/></g><g><line x1="1030.54" y1="236.6" x2="1030.54" y2="267.9" stroke="#807f7e" stroke-width="5.3"/><rect x="1022.54" y="265.15" width="16" height="5.5" fill="#807f7e"/></g><g><line x1="1075.62" y1="229.3" x2="1075.62" y2="257.1" stroke="#807f7e" stroke-width="5.3"/><rect x="1067.62" y="254.35" width="16" height="5.5" fill="#807f7e"/></g><g><line x1="1436.26" y1="151.8" x2="1436.26" y2="195.7" stroke="#807f7e" stroke-width="5.3"/><rect x="1428.26" y="192.95" width="16" height="5.5" fill="#807f7e"/></g><g><circle cx="895.3" cy="451.2" r="8" fill="#807f7e"/></g><g><circle cx="900.93" cy="309.9" r="8" fill="#807f7e"/></g><g><circle cx="940.38" cy="309.9" r="8" fill="#807f7e"/></g><g><circle cx="985.46" cy="261.4" r="8" fill="#807f7e"/></g><g><circle cx="1030.54" cy="236.6" r="8" fill="#807f7e"/></g><g><circle cx="1075.62" cy="229.3" r="8" fill="#807f7e"/></g><g><circle cx="1436.26" cy="151.8" r="8" fill="#807f7e"/></g>
<path d="M110 1026L132.93 987L201.72 922L293.44 837.5L660.32 744" fill="none" stroke="#e3261c" stroke-width="3.3" stroke-linejoin="round"/><g></g><g><line x1="132.93" y1="987" x2="132.93" y2="999.1" stroke="#e3261c" stroke-width="5.3"/><rect x="124.93" y="996.35" width="16" height="5.5" fill="#e3261c"/></g><g><line x1="201.72" y1="922" x2="201.72" y2="901.5" stroke="#e3261c" stroke-width="5.3"/><rect x="193.72" y="898.75" width="16" height="5.5" fill="#e3261c"/><line x1="201.72" y1="922" x2="201.72" y2="947" stroke="#e3261c" stroke-width="5.3"/><rect x="193.72" y="944.25" width="16" height="5.5" fill="#e3261c"/></g><g><line x1="293.44" y1="837.5" x2="293.44" y2="826" stroke="#e3261c" stroke-width="5.3"/><rect x="285.44" y="823.25" width="16" height="5.5" fill="#e3261c"/><line x1="293.44" y1="837.5" x2="293.44" y2="850.5" stroke="#e3261c" stroke-width="5.3"/><rect x="285.44" y="847.75" width="16" height="5.5" fill="#e3261c"/></g><g><line x1="660.32" y1="744" x2="660.32" y2="772.8" stroke="#e3261c" stroke-width="5.3"/><rect x="652.32" y="770.05" width="16" height="5.5" fill="#e3261c"/></g><g><path d="M101.5 1017.92L118.5 1017.92L110 1034.08Z" fill="#e3261c"/></g><g><path d="M124.43 978.92L141.43 978.92L132.93 995.08Z" fill="#e3261c"/></g><g><path d="M193.22 913.92L210.22 913.92L201.72 930.08Z" fill="#e3261c"/></g><g><path d="M284.94 829.42L301.94 829.42L293.44 845.58Z" fill="#e3261c"/></g><g><path d="M651.82 735.92L668.82 735.92L660.32 752.08Z" fill="#e3261c"/></g>
<path d="M110 1026L132.93 983.5L201.72 914.5L293.44 820L660.32 733.1" fill="none" stroke="#3a3a9e" stroke-width="3.3" stroke-linejoin="round"/><g></g><g><line x1="132.93" y1="983.5" x2="132.93" y2="990.9" stroke="#3a3a9e" stroke-width="5.3"/><rect x="124.93" y="988.15" width="16" height="5.5" fill="#3a3a9e"/></g><g><line x1="201.72" y1="914.5" x2="201.72" y2="890" stroke="#3a3a9e" stroke-width="5.3"/><rect x="193.72" y="887.25" width="16" height="5.5" fill="#3a3a9e"/><line x1="201.72" y1="914.5" x2="201.72" y2="941.2" stroke="#3a3a9e" stroke-width="5.3"/><rect x="193.72" y="938.45" width="16" height="5.5" fill="#3a3a9e"/></g><g><line x1="293.44" y1="820" x2="293.44" y2="856.3" stroke="#3a3a9e" stroke-width="5.3"/><rect x="285.44" y="853.55" width="16" height="5.5" fill="#3a3a9e"/></g><g><line x1="660.32" y1="733.1" x2="660.32" y2="788.7" stroke="#3a3a9e" stroke-width="5.3"/><rect x="652.32" y="785.95" width="16" height="5.5" fill="#3a3a9e"/></g><g><path d="M110 1017.92L118.5 1034.08L101.5 1034.08Z" fill="#3a3a9e"/></g><g><path d="M132.93 975.42L141.43 991.58L124.43 991.58Z" fill="#3a3a9e"/></g><g><path d="M201.72 906.42L210.22 922.58L193.22 922.58Z" fill="#3a3a9e"/></g><g><path d="M293.44 811.92L301.94 828.08L284.94 828.08Z" fill="#3a3a9e"/></g><g><path d="M660.32 725.02L668.82 741.18L651.82 741.18Z" fill="#3a3a9e"/></g>
<path d="M110 1026L132.93 978.5L201.72 887.5L293.44 798.7L660.32 710" fill="none" stroke="#3cb81c" stroke-width="3.3" stroke-linejoin="round"/><g></g><g></g><g><line x1="201.72" y1="887.5" x2="201.72" y2="835.4" stroke="#3cb81c" stroke-width="5.3"/><rect x="193.72" y="832.65" width="16" height="5.5" fill="#3cb81c"/></g><g><line x1="293.44" y1="798.7" x2="293.44" y2="763.4" stroke="#3cb81c" stroke-width="5.3"/><rect x="285.44" y="760.65" width="16" height="5.5" fill="#3cb81c"/><line x1="293.44" y1="798.7" x2="293.44" y2="827.7" stroke="#3cb81c" stroke-width="5.3"/><rect x="285.44" y="824.95" width="16" height="5.5" fill="#3cb81c"/></g><g><line x1="660.32" y1="710" x2="660.32" y2="661.1" stroke="#3cb81c" stroke-width="5.3"/><rect x="652.32" y="658.35" width="16" height="5.5" fill="#3cb81c"/><line x1="660.32" y1="710" x2="660.32" y2="749.6" stroke="#3cb81c" stroke-width="5.3"/><rect x="652.32" y="746.85" width="16" height="5.5" fill="#3cb81c"/></g><g><rect x="101.5" y="1017.5" width="17" height="17" fill="#3cb81c"/></g><g><rect x="124.43" y="970" width="17" height="17" fill="#3cb81c"/></g><g><rect x="193.22" y="879" width="17" height="17" fill="#3cb81c"/></g><g><rect x="284.94" y="790.2" width="17" height="17" fill="#3cb81c"/></g><g><rect x="651.82" y="701.5" width="17" height="17" fill="#3cb81c"/></g>
<path d="M110 1026L132.93 850.9L201.72 780.5L293.44 732.5L660.32 700.7" fill="none" stroke="#807f7e" stroke-width="3.3" stroke-linejoin="round"/><g></g><g><line x1="132.93" y1="850.9" x2="132.93" y2="840.6" stroke="#807f7e" stroke-width="5.3"/><rect x="124.93" y="837.85" width="16" height="5.5" fill="#807f7e"/><line x1="132.93" y1="850.9" x2="132.93" y2="903.4" stroke="#807f7e" stroke-width="5.3"/><rect x="124.93" y="900.65" width="16" height="5.5" fill="#807f7e"/></g><g><line x1="201.72" y1="780.5" x2="201.72" y2="763.4" stroke="#807f7e" stroke-width="5.3"/><rect x="193.72" y="760.65" width="16" height="5.5" fill="#807f7e"/><line x1="201.72" y1="780.5" x2="201.72" y2="820" stroke="#807f7e" stroke-width="5.3"/><rect x="193.72" y="817.25" width="16" height="5.5" fill="#807f7e"/></g><g><line x1="293.44" y1="732.5" x2="293.44" y2="711.9" stroke="#807f7e" stroke-width="5.3"/><rect x="285.44" y="709.15" width="16" height="5.5" fill="#807f7e"/><line x1="293.44" y1="732.5" x2="293.44" y2="779.6" stroke="#807f7e" stroke-width="5.3"/><rect x="285.44" y="776.85" width="16" height="5.5" fill="#807f7e"/></g><g><line x1="660.32" y1="700.7" x2="660.32" y2="678.9" stroke="#807f7e" stroke-width="5.3"/><rect x="652.32" y="676.15" width="16" height="5.5" fill="#807f7e"/><line x1="660.32" y1="700.7" x2="660.32" y2="738.8" stroke="#807f7e" stroke-width="5.3"/><rect x="652.32" y="736.05" width="16" height="5.5" fill="#807f7e"/></g><g><circle cx="110" cy="1026" r="8" fill="#807f7e"/></g><g><circle cx="132.93" cy="850.9" r="8" fill="#807f7e"/></g><g><circle cx="201.72" cy="780.5" r="8" fill="#807f7e"/></g><g><circle cx="293.44" cy="732.5" r="8" fill="#807f7e"/></g><g><circle cx="660.32" cy="700.7" r="8" fill="#807f7e"/></g>
<path d="M895.5 1026.4L918.46 1018L987.35 990.4L1079.2 946.4L1446.6 858.5" fill="none" stroke="#e3261c" stroke-width="3.3" stroke-linejoin="round"/><g></g><g></g><g></g><g></g><g></g><g><path d="M887 1018.33L904 1018.33L895.5 1034.48Z" fill="#e3261c"/></g><g><path d="M909.96 1009.92L926.96 1009.92L918.46 1026.08Z" fill="#e3261c"/></g><g><path d="M978.85 982.32L995.85 982.32L987.35 998.48Z" fill="#e3261c"/></g><g><path d="M1070.7 938.32L1087.7 938.32L1079.2 954.48Z" fill="#e3261c"/></g><g><path d="M1438.1 850.42L1455.1 850.42L1446.6 866.58Z" fill="#e3261c"/></g>
<path d="M895.5 1026.4L918.46 1014L987.35 962.4L1079.2 908L1446.6 845.8" fill="none" stroke="#3a3a9e" stroke-width="3.3" stroke-linejoin="round"/><g></g><g></g><g></g><g><line x1="1079.2" y1="908" x2="1079.2" y2="882.4" stroke="#3a3a9e" stroke-width="5.3"/><rect x="1071.2" y="879.65" width="16" height="5.5" fill="#3a3a9e"/></g><g><line x1="1446.6" y1="845.8" x2="1446.6" y2="773.3" stroke="#3a3a9e" stroke-width="5.3"/><rect x="1438.6" y="770.55" width="16" height="5.5" fill="#3a3a9e"/></g><g><path d="M895.5 1018.33L904 1034.48L887 1034.48Z" fill="#3a3a9e"/></g><g><path d="M918.46 1005.92L926.96 1022.08L909.96 1022.08Z" fill="#3a3a9e"/></g><g><path d="M987.35 954.32L995.85 970.48L978.85 970.48Z" fill="#3a3a9e"/></g><g><path d="M1079.2 899.92L1087.7 916.08L1070.7 916.08Z" fill="#3a3a9e"/></g><g><path d="M1446.6 837.72L1455.1 853.88L1438.1 853.88Z" fill="#3a3a9e"/></g>
<path d="M895.5 1026.4L918.46 1016L987.35 975.2L1079.2 926.4L1446.6 862" fill="none" stroke="#3cb81c" stroke-width="3.3" stroke-linejoin="round"/><g></g><g></g><g></g><g><line x1="1079.2" y1="926.4" x2="1079.2" y2="917" stroke="#3cb81c" stroke-width="5.3"/><rect x="1071.2" y="914.25" width="16" height="5.5" fill="#3cb81c"/><line x1="1079.2" y1="926.4" x2="1079.2" y2="935.5" stroke="#3cb81c" stroke-width="5.3"/><rect x="1071.2" y="932.75" width="16" height="5.5" fill="#3cb81c"/></g><g><line x1="1446.6" y1="862" x2="1446.6" y2="844" stroke="#3cb81c" stroke-width="5.3"/><rect x="1438.6" y="841.25" width="16" height="5.5" fill="#3cb81c"/><line x1="1446.6" y1="862" x2="1446.6" y2="874.7" stroke="#3cb81c" stroke-width="5.3"/><rect x="1438.6" y="871.95" width="16" height="5.5" fill="#3cb81c"/></g><g><rect x="887" y="1017.9" width="17" height="17" fill="#3cb81c"/></g><g><rect x="909.96" y="1007.5" width="17" height="17" fill="#3cb81c"/></g><g><rect x="978.85" y="966.7" width="17" height="17" fill="#3cb81c"/></g><g><rect x="1070.7" y="917.9" width="17" height="17" fill="#3cb81c"/></g><g><rect x="1438.1" y="853.5" width="17" height="17" fill="#3cb81c"/></g>
<path d="M895.5 1026.4L918.46 915.7L987.35 847.3L1079.2 793.7L1446.6 754.8" fill="none" stroke="#807f7e" stroke-width="3.3" stroke-linejoin="round"/><g></g><g><line x1="918.46" y1="915.7" x2="918.46" y2="880.8" stroke="#807f7e" stroke-width="5.3"/><rect x="910.46" y="878.05" width="16" height="5.5" fill="#807f7e"/><line x1="918.46" y1="915.7" x2="918.46" y2="924" stroke="#807f7e" stroke-width="5.3"/><rect x="910.46" y="921.25" width="16" height="5.5" fill="#807f7e"/></g><g><line x1="987.35" y1="847.3" x2="987.35" y2="837.1" stroke="#807f7e" stroke-width="5.3"/><rect x="979.35" y="834.35" width="16" height="5.5" fill="#807f7e"/><line x1="987.35" y1="847.3" x2="987.35" y2="880" stroke="#807f7e" stroke-width="5.3"/><rect x="979.35" y="877.25" width="16" height="5.5" fill="#807f7e"/></g><g><line x1="1079.2" y1="793.7" x2="1079.2" y2="832.9" stroke="#807f7e" stroke-width="5.3"/><rect x="1071.2" y="830.15" width="16" height="5.5" fill="#807f7e"/></g><g><line x1="1446.6" y1="754.8" x2="1446.6" y2="729" stroke="#807f7e" stroke-width="5.3"/><rect x="1438.6" y="726.25" width="16" height="5.5" fill="#807f7e"/><line x1="1446.6" y1="754.8" x2="1446.6" y2="796.4" stroke="#807f7e" stroke-width="5.3"/><rect x="1438.6" y="793.65" width="16" height="5.5" fill="#807f7e"/></g><g><circle cx="895.5" cy="1026.4" r="8" fill="#807f7e"/></g><g><circle cx="918.46" cy="915.7" r="8" fill="#807f7e"/></g><g><circle cx="987.35" cy="847.3" r="8" fill="#807f7e"/></g><g><circle cx="1079.2" cy="793.7" r="8" fill="#807f7e"/></g><g><circle cx="1446.6" cy="754.8" r="8" fill="#807f7e"/></g>
<path d="M109.9 1584.5L115.62 1558L155.7 1560L201.5 1584.5L247.3 1554L293.1 1540.6L659.5 1513" fill="none" stroke="#e3261c" stroke-width="3.3" stroke-linejoin="round" clip-path="url(#eB)"/><g clip-path="url(#eB)"></g><g clip-path="url(#eB)"><line x1="115.62" y1="1558" x2="115.62" y2="1540" stroke="#e3261c" stroke-width="5.3"/><rect x="107.62" y="1537.25" width="16" height="5.5" fill="#e3261c"/></g><g clip-path="url(#eB)"><line x1="155.7" y1="1560" x2="155.7" y2="1545.5" stroke="#e3261c" stroke-width="5.3"/><rect x="147.7" y="1542.75" width="16" height="5.5" fill="#e3261c"/></g><g clip-path="url(#eB)"></g><g clip-path="url(#eB)"><line x1="247.3" y1="1554" x2="247.3" y2="1542.5" stroke="#e3261c" stroke-width="5.3"/><rect x="239.3" y="1539.75" width="16" height="5.5" fill="#e3261c"/></g><g clip-path="url(#eB)"><line x1="293.1" y1="1540.6" x2="293.1" y2="1511.2" stroke="#e3261c" stroke-width="5.3"/><rect x="285.1" y="1508.45" width="16" height="5.5" fill="#e3261c"/></g><g clip-path="url(#eB)"><line x1="659.5" y1="1513" x2="659.5" y2="1494.5" stroke="#e3261c" stroke-width="5.3"/><rect x="651.5" y="1491.75" width="16" height="5.5" fill="#e3261c"/><line x1="659.5" y1="1513" x2="659.5" y2="1527.4" stroke="#e3261c" stroke-width="5.3"/><rect x="651.5" y="1524.65" width="16" height="5.5" fill="#e3261c"/></g><g clip-path="url(#eB)"><path d="M101.4 1576.42L118.4 1576.42L109.9 1592.58Z" fill="#e3261c"/></g><g clip-path="url(#eB)"><path d="M107.12 1549.92L124.12 1549.92L115.62 1566.08Z" fill="#e3261c"/></g><g clip-path="url(#eB)"><path d="M147.2 1551.92L164.2 1551.92L155.7 1568.08Z" fill="#e3261c"/></g><g clip-path="url(#eB)"><path d="M193 1576.42L210 1576.42L201.5 1592.58Z" fill="#e3261c"/></g><g clip-path="url(#eB)"><path d="M238.8 1545.92L255.8 1545.92L247.3 1562.08Z" fill="#e3261c"/></g><g clip-path="url(#eB)"><path d="M284.6 1532.52L301.6 1532.52L293.1 1548.67Z" fill="#e3261c"/></g><g clip-path="url(#eB)"><path d="M651 1504.92L668 1504.92L659.5 1521.08Z" fill="#e3261c"/></g>
<path d="M109.9 1584.5L115.62 1567L155.7 1565L201.5 1551.8L247.3 1572.8L293.1 1577L659.5 1542.9" fill="none" stroke="#3a3a9e" stroke-width="3.3" stroke-linejoin="round" clip-path="url(#eB)"/><g clip-path="url(#eB)"></g><g clip-path="url(#eB)"><line x1="115.62" y1="1567" x2="115.62" y2="1558" stroke="#3a3a9e" stroke-width="5.3"/><rect x="107.62" y="1555.25" width="16" height="5.5" fill="#3a3a9e"/><line x1="115.62" y1="1567" x2="115.62" y2="1576.3" stroke="#3a3a9e" stroke-width="5.3"/><rect x="107.62" y="1573.55" width="16" height="5.5" fill="#3a3a9e"/></g><g clip-path="url(#eB)"><line x1="155.7" y1="1565" x2="155.7" y2="1550.5" stroke="#3a3a9e" stroke-width="5.3"/><rect x="147.7" y="1547.75" width="16" height="5.5" fill="#3a3a9e"/></g><g clip-path="url(#eB)"></g><g clip-path="url(#eB)"></g><g clip-path="url(#eB)"><line x1="293.1" y1="1577" x2="293.1" y2="1564.4" stroke="#3a3a9e" stroke-width="5.3"/><rect x="285.1" y="1561.65" width="16" height="5.5" fill="#3a3a9e"/></g><g clip-path="url(#eB)"><line x1="659.5" y1="1542.9" x2="659.5" y2="1520.2" stroke="#3a3a9e" stroke-width="5.3"/><rect x="651.5" y="1517.45" width="16" height="5.5" fill="#3a3a9e"/><line x1="659.5" y1="1542.9" x2="659.5" y2="1565.5" stroke="#3a3a9e" stroke-width="5.3"/><rect x="651.5" y="1562.75" width="16" height="5.5" fill="#3a3a9e"/></g><g clip-path="url(#eB)"><path d="M109.9 1576.42L118.4 1592.58L101.4 1592.58Z" fill="#3a3a9e"/></g><g clip-path="url(#eB)"><path d="M115.62 1558.92L124.12 1575.08L107.12 1575.08Z" fill="#3a3a9e"/></g><g clip-path="url(#eB)"><path d="M155.7 1556.92L164.2 1573.08L147.2 1573.08Z" fill="#3a3a9e"/></g><g clip-path="url(#eB)"><path d="M201.5 1543.72L210 1559.88L193 1559.88Z" fill="#3a3a9e"/></g><g clip-path="url(#eB)"><path d="M247.3 1564.72L255.8 1580.88L238.8 1580.88Z" fill="#3a3a9e"/></g><g clip-path="url(#eB)"><path d="M293.1 1568.92L301.6 1585.08L284.6 1585.08Z" fill="#3a3a9e"/></g><g clip-path="url(#eB)"><path d="M659.5 1534.83L668 1550.98L651 1550.98Z" fill="#3a3a9e"/></g>
<path d="M109.9 1584.5L115.62 1547L155.7 1574L201.5 1584.5L247.3 1574L293.1 1549.7L659.5 1538.7" fill="none" stroke="#3cb81c" stroke-width="3.3" stroke-linejoin="round" clip-path="url(#eB)"/><g clip-path="url(#eB)"></g><g clip-path="url(#eB)"><line x1="115.62" y1="1547" x2="115.62" y2="1523.1" stroke="#3cb81c" stroke-width="5.3"/><rect x="107.62" y="1520.35" width="16" height="5.5" fill="#3cb81c"/><line x1="115.62" y1="1547" x2="115.62" y2="1572.8" stroke="#3cb81c" stroke-width="5.3"/><rect x="107.62" y="1570.05" width="16" height="5.5" fill="#3cb81c"/></g><g clip-path="url(#eB)"><line x1="155.7" y1="1574" x2="155.7" y2="1563.5" stroke="#3cb81c" stroke-width="5.3"/><rect x="147.7" y="1560.75" width="16" height="5.5" fill="#3cb81c"/><line x1="155.7" y1="1574" x2="155.7" y2="1586" stroke="#3cb81c" stroke-width="5.3"/><rect x="147.7" y="1583.25" width="16" height="5.5" fill="#3cb81c"/></g><g clip-path="url(#eB)"></g><g clip-path="url(#eB)"><line x1="247.3" y1="1574" x2="247.3" y2="1563.5" stroke="#3cb81c" stroke-width="5.3"/><rect x="239.3" y="1560.75" width="16" height="5.5" fill="#3cb81c"/><line x1="247.3" y1="1574" x2="247.3" y2="1586" stroke="#3cb81c" stroke-width="5.3"/><rect x="239.3" y="1583.25" width="16" height="5.5" fill="#3cb81c"/></g><g clip-path="url(#eB)"><line x1="293.1" y1="1549.7" x2="293.1" y2="1527.3" stroke="#3cb81c" stroke-width="5.3"/><rect x="285.1" y="1524.55" width="16" height="5.5" fill="#3cb81c"/><line x1="293.1" y1="1549.7" x2="293.1" y2="1571.4" stroke="#3cb81c" stroke-width="5.3"/><rect x="285.1" y="1568.65" width="16" height="5.5" fill="#3cb81c"/></g><g clip-path="url(#eB)"><line x1="659.5" y1="1538.7" x2="659.5" y2="1515" stroke="#3cb81c" stroke-width="5.3"/><rect x="651.5" y="1512.25" width="16" height="5.5" fill="#3cb81c"/><line x1="659.5" y1="1538.7" x2="659.5" y2="1562.4" stroke="#3cb81c" stroke-width="5.3"/><rect x="651.5" y="1559.65" width="16" height="5.5" fill="#3cb81c"/></g><g clip-path="url(#eB)"><rect x="101.4" y="1576" width="17" height="17" fill="#3cb81c"/></g><g clip-path="url(#eB)"><rect x="107.12" y="1538.5" width="17" height="17" fill="#3cb81c"/></g><g clip-path="url(#eB)"><rect x="147.2" y="1565.5" width="17" height="17" fill="#3cb81c"/></g><g clip-path="url(#eB)"><rect x="193" y="1576" width="17" height="17" fill="#3cb81c"/></g><g clip-path="url(#eB)"><rect x="238.8" y="1565.5" width="17" height="17" fill="#3cb81c"/></g><g clip-path="url(#eB)"><rect x="284.6" y="1541.2" width="17" height="17" fill="#3cb81c"/></g><g clip-path="url(#eB)"><rect x="651" y="1530.2" width="17" height="17" fill="#3cb81c"/></g>
<path d="M109.9 1584.5L115.62 1337.8L155.7 1324.3L201.5 1319.9L247.3 1315.8L293.1 1319.1L659.5 1292.7" fill="none" stroke="#807f7e" stroke-width="3.3" stroke-linejoin="round" clip-path="url(#eT)"/><g clip-path="url(#eT)"></g><g clip-path="url(#eT)"><line x1="115.62" y1="1337.8" x2="115.62" y2="1317.2" stroke="#807f7e" stroke-width="5.3"/><rect x="107.62" y="1314.45" width="16" height="5.5" fill="#807f7e"/><line x1="115.62" y1="1337.8" x2="115.62" y2="1400" stroke="#807f7e" stroke-width="5.3"/><rect x="107.62" y="1397.25" width="16" height="5.5" fill="#807f7e"/></g><g clip-path="url(#eT)"><line x1="155.7" y1="1324.3" x2="155.7" y2="1313.3" stroke="#807f7e" stroke-width="5.3"/><rect x="147.7" y="1310.55" width="16" height="5.5" fill="#807f7e"/><line x1="155.7" y1="1324.3" x2="155.7" y2="1336.3" stroke="#807f7e" stroke-width="5.3"/><rect x="147.7" y="1333.55" width="16" height="5.5" fill="#807f7e"/></g><g clip-path="url(#eT)"><line x1="201.5" y1="1319.9" x2="201.5" y2="1309.6" stroke="#807f7e" stroke-width="5.3"/><rect x="193.5" y="1306.85" width="16" height="5.5" fill="#807f7e"/></g><g clip-path="url(#eT)"><line x1="247.3" y1="1315.8" x2="247.3" y2="1307.4" stroke="#807f7e" stroke-width="5.3"/><rect x="239.3" y="1304.65" width="16" height="5.5" fill="#807f7e"/></g><g clip-path="url(#eT)"><line x1="293.1" y1="1319.1" x2="293.1" y2="1292.3" stroke="#807f7e" stroke-width="5.3"/><rect x="285.1" y="1289.55" width="16" height="5.5" fill="#807f7e"/><line x1="293.1" y1="1319.1" x2="293.1" y2="1330.9" stroke="#807f7e" stroke-width="5.3"/><rect x="285.1" y="1328.15" width="16" height="5.5" fill="#807f7e"/></g><g clip-path="url(#eT)"></g><g clip-path="url(#eT)"><circle cx="109.9" cy="1584.5" r="8" fill="#807f7e"/></g><g clip-path="url(#eT)"><circle cx="115.62" cy="1337.8" r="8" fill="#807f7e"/></g><g clip-path="url(#eT)"><circle cx="155.7" cy="1324.3" r="8" fill="#807f7e"/></g><g clip-path="url(#eT)"><circle cx="201.5" cy="1319.9" r="8" fill="#807f7e"/></g><g clip-path="url(#eT)"><circle cx="247.3" cy="1315.8" r="8" fill="#807f7e"/></g><g clip-path="url(#eT)"><circle cx="293.1" cy="1319.1" r="8" fill="#807f7e"/></g><g clip-path="url(#eT)"><circle cx="659.5" cy="1292.7" r="8" fill="#807f7e"/></g>
<g clip-path="url(#eB)"><path d="M109.9 1584.5L115.62 1337.8" stroke="#807f7e" stroke-width="3.3" fill="none"/><circle cx="109.9" cy="1584.5" r="8" fill="#807f7e"/></g>
<path d="M893.5 1583.2L899.25 1583.2L939.5 1583.2L985.5 1583.2L1031.5 1583.2L1077.5 1583.2L1445.5 1583.2" fill="none" stroke="#e3261c" stroke-width="3.3" stroke-linejoin="round" clip-path="url(#fB)"/><g clip-path="url(#fB)"></g><g clip-path="url(#fB)"></g><g clip-path="url(#fB)"></g><g clip-path="url(#fB)"></g><g clip-path="url(#fB)"></g><g clip-path="url(#fB)"></g><g clip-path="url(#fB)"></g><g clip-path="url(#fB)"><path d="M885 1575.12L902 1575.12L893.5 1591.28Z" fill="#e3261c"/></g><g clip-path="url(#fB)"><path d="M890.75 1575.12L907.75 1575.12L899.25 1591.28Z" fill="#e3261c"/></g><g clip-path="url(#fB)"><path d="M931 1575.12L948 1575.12L939.5 1591.28Z" fill="#e3261c"/></g><g clip-path="url(#fB)"><path d="M977 1575.12L994 1575.12L985.5 1591.28Z" fill="#e3261c"/></g><g clip-path="url(#fB)"><path d="M1023 1575.12L1040 1575.12L1031.5 1591.28Z" fill="#e3261c"/></g><g clip-path="url(#fB)"><path d="M1069 1575.12L1086 1575.12L1077.5 1591.28Z" fill="#e3261c"/></g><g clip-path="url(#fB)"><path d="M1437 1575.12L1454 1575.12L1445.5 1591.28Z" fill="#e3261c"/></g>
<path d="M893.5 1583.2L899.25 1583.2L939.5 1583.2L985.5 1583.2L1031.5 1583.2L1077.5 1583.2L1445.5 1583.2" fill="none" stroke="#3a3a9e" stroke-width="3.3" stroke-linejoin="round" clip-path="url(#fB)"/><g clip-path="url(#fB)"></g><g clip-path="url(#fB)"></g><g clip-path="url(#fB)"></g><g clip-path="url(#fB)"></g><g clip-path="url(#fB)"></g><g clip-path="url(#fB)"></g><g clip-path="url(#fB)"></g><g clip-path="url(#fB)"><path d="M893.5 1575.12L902 1591.28L885 1591.28Z" fill="#3a3a9e"/></g><g clip-path="url(#fB)"><path d="M899.25 1575.12L907.75 1591.28L890.75 1591.28Z" fill="#3a3a9e"/></g><g clip-path="url(#fB)"><path d="M939.5 1575.12L948 1591.28L931 1591.28Z" fill="#3a3a9e"/></g><g clip-path="url(#fB)"><path d="M985.5 1575.12L994 1591.28L977 1591.28Z" fill="#3a3a9e"/></g><g clip-path="url(#fB)"><path d="M1031.5 1575.12L1040 1591.28L1023 1591.28Z" fill="#3a3a9e"/></g><g clip-path="url(#fB)"><path d="M1077.5 1575.12L1086 1591.28L1069 1591.28Z" fill="#3a3a9e"/></g><g clip-path="url(#fB)"><path d="M1445.5 1575.12L1454 1591.28L1437 1591.28Z" fill="#3a3a9e"/></g>
<path d="M893.5 1583.2L899.25 1583.2L939.5 1583.2L985.5 1583.2L1031.5 1583.2L1077.5 1583.2L1445.5 1583.2" fill="none" stroke="#3cb81c" stroke-width="3.3" stroke-linejoin="round" clip-path="url(#fB)"/><g clip-path="url(#fB)"></g><g clip-path="url(#fB)"></g><g clip-path="url(#fB)"></g><g clip-path="url(#fB)"></g><g clip-path="url(#fB)"></g><g clip-path="url(#fB)"></g><g clip-path="url(#fB)"></g><g clip-path="url(#fB)"><rect x="885" y="1574.7" width="17" height="17" fill="#3cb81c"/></g><g clip-path="url(#fB)"><rect x="890.75" y="1574.7" width="17" height="17" fill="#3cb81c"/></g><g clip-path="url(#fB)"><rect x="931" y="1574.7" width="17" height="17" fill="#3cb81c"/></g><g clip-path="url(#fB)"><rect x="977" y="1574.7" width="17" height="17" fill="#3cb81c"/></g><g clip-path="url(#fB)"><rect x="1023" y="1574.7" width="17" height="17" fill="#3cb81c"/></g><g clip-path="url(#fB)"><rect x="1069" y="1574.7" width="17" height="17" fill="#3cb81c"/></g><g clip-path="url(#fB)"><rect x="1437" y="1574.7" width="17" height="17" fill="#3cb81c"/></g>
<path d="M893.5 1584L899.25 1340L939.5 1347L985.5 1344L1031.5 1342.4L1077.5 1341L1445.5 1342.5" fill="none" stroke="#807f7e" stroke-width="3.3" stroke-linejoin="round" clip-path="url(#fT)"/><g clip-path="url(#fT)"></g><g clip-path="url(#fT)"><line x1="899.25" y1="1340" x2="899.25" y2="1321" stroke="#807f7e" stroke-width="5.3"/><rect x="891.25" y="1318.25" width="16" height="5.5" fill="#807f7e"/><line x1="899.25" y1="1340" x2="899.25" y2="1356" stroke="#807f7e" stroke-width="5.3"/><rect x="891.25" y="1353.25" width="16" height="5.5" fill="#807f7e"/></g><g clip-path="url(#fT)"><line x1="939.5" y1="1347" x2="939.5" y2="1305" stroke="#807f7e" stroke-width="5.3"/><rect x="931.5" y="1302.25" width="16" height="5.5" fill="#807f7e"/></g><g clip-path="url(#fT)"><line x1="985.5" y1="1344" x2="985.5" y2="1291" stroke="#807f7e" stroke-width="5.3"/><rect x="977.5" y="1288.25" width="16" height="5.5" fill="#807f7e"/></g><g clip-path="url(#fT)"><line x1="1031.5" y1="1342.4" x2="1031.5" y2="1297" stroke="#807f7e" stroke-width="5.3"/><rect x="1023.5" y="1294.25" width="16" height="5.5" fill="#807f7e"/><line x1="1031.5" y1="1342.4" x2="1031.5" y2="1353" stroke="#807f7e" stroke-width="5.3"/><rect x="1023.5" y="1350.25" width="16" height="5.5" fill="#807f7e"/></g><g clip-path="url(#fT)"><line x1="1077.5" y1="1341" x2="1077.5" y2="1312" stroke="#807f7e" stroke-width="5.3"/><rect x="1069.5" y="1309.25" width="16" height="5.5" fill="#807f7e"/></g><g clip-path="url(#fT)"><line x1="1445.5" y1="1342.5" x2="1445.5" y2="1298.5" stroke="#807f7e" stroke-width="5.3"/><rect x="1437.5" y="1295.75" width="16" height="5.5" fill="#807f7e"/></g><g clip-path="url(#fT)"><circle cx="893.5" cy="1584" r="8" fill="#807f7e"/></g><g clip-path="url(#fT)"><circle cx="899.25" cy="1340" r="8" fill="#807f7e"/></g><g clip-path="url(#fT)"><circle cx="939.5" cy="1347" r="8" fill="#807f7e"/></g><g clip-path="url(#fT)"><circle cx="985.5" cy="1344" r="8" fill="#807f7e"/></g><g clip-path="url(#fT)"><circle cx="1031.5" cy="1342.4" r="8" fill="#807f7e"/></g><g clip-path="url(#fT)"><circle cx="1077.5" cy="1341" r="8" fill="#807f7e"/></g><g clip-path="url(#fT)"><circle cx="1445.5" cy="1342.5" r="8" fill="#807f7e"/></g>
<g clip-path="url(#fB)"><path d="M893.5 1584L899.25 1340" stroke="#807f7e" stroke-width="3.3" fill="none"/><circle cx="893.5" cy="1584" r="8" fill="#807f7e"/></g>
<text x="405.4" y="65.2" font-size="41.7" font-weight="bold" text-anchor="middle" fill="#231f20">Na-F</text>
<text x="1227" y="64.5" font-size="41.7" font-weight="bold" text-anchor="middle" fill="#231f20">FITC-dextran (40 kDa)</text>
<text x="401.2" y="634.5" font-size="41.7" font-weight="bold" text-anchor="middle" fill="#231f20">Antipyrine</text>
<text x="1190.8" y="633.6" font-size="41.7" font-weight="bold" text-anchor="middle" fill="#231f20">Indomethacin</text>
<text x="402.4" y="1205" font-size="41.7" font-weight="bold" text-anchor="middle" fill="#231f20">49 nm PS NPs</text>
<text x="1187.5" y="1205" font-size="41.7" font-weight="bold" text-anchor="middle" fill="#231f20">70 nm PS NPs</text>
<text x="3.5" y="39.6" font-size="48" font-weight="bold" text-anchor="start" fill="#231f20" transform="translate(3.5 0) scale(0.9 1) translate(-3.5 0)">a</text>
<text x="786" y="39.4" font-size="48" font-weight="bold" text-anchor="start" fill="#231f20" transform="translate(786 0) scale(0.99 1) translate(-786 0)">b</text>
<text x="3.7" y="613" font-size="48" font-weight="bold" text-anchor="start" fill="#231f20" transform="translate(3.7 0) scale(0.99 1) translate(-3.7 0)">c</text>
<text x="788.5" y="610.8" font-size="48" font-weight="bold" text-anchor="start" fill="#231f20" transform="translate(788.5 0) scale(0.99 1) translate(-788.5 0)">d</text>
<text x="2.6" y="1172.4" font-size="48" font-weight="bold" text-anchor="start" fill="#231f20" transform="translate(2.6 0) scale(0.99 1) translate(-2.6 0)">e</text>
<text x="796" y="1171.5" font-size="48" font-weight="bold" text-anchor="start" fill="#231f20" transform="translate(796 0) scale(0.99 1) translate(-796 0)">f</text>
<text transform="translate(28.8 257.6) rotate(-90)" font-size="30.6" text-anchor="middle" fill="#000" textLength="393.5" lengthAdjust="spacingAndGlyphs">basolateral amount [% of ID]</text>
<text transform="translate(814 257.7) rotate(-90)" font-size="30.6" text-anchor="middle" fill="#000" textLength="393.5" lengthAdjust="spacingAndGlyphs">basolateral amount [% of ID]</text>
<text transform="translate(32.4 830.3) rotate(-90)" font-size="30.6" text-anchor="middle" fill="#000" textLength="393.5" lengthAdjust="spacingAndGlyphs">basolateral amount [% of ID]</text>
<text transform="translate(814 830.3) rotate(-90)" font-size="30.6" text-anchor="middle" fill="#000" textLength="393.5" lengthAdjust="spacingAndGlyphs">basolateral amount [% of ID]</text>
<text transform="translate(28.6 1386.4) rotate(-90)" font-size="30.6" text-anchor="middle" fill="#000" textLength="393.5" lengthAdjust="spacingAndGlyphs">basolateral amount [% of ID]</text>
<text transform="translate(813.7 1393.3) rotate(-90)" font-size="30.6" text-anchor="middle" fill="#000" textLength="393.5" lengthAdjust="spacingAndGlyphs">basolateral amount [% of ID]</text>
<text x="404.2" y="535.1" font-size="31.2" font-weight="normal" text-anchor="middle" fill="#000">time [h]</text>
<text x="1192" y="528.1" font-size="31.2" font-weight="normal" text-anchor="middle" fill="#000">time [h]</text>
<text x="404.8" y="1110" font-size="31.2" font-weight="normal" text-anchor="middle" fill="#000">time [h]</text>
<text x="1189" y="1106.7" font-size="31.2" font-weight="normal" text-anchor="middle" fill="#000">time [h]</text>
<text x="404.2" y="1664.6" font-size="31.2" font-weight="normal" text-anchor="middle" fill="#000">time [h]</text>
<text x="1192.1" y="1663" font-size="31.2" font-weight="normal" text-anchor="middle" fill="#000">time [h]</text>
<line x1="346.4" y1="1733.2" x2="380.4" y2="1733.2" stroke="#807f7e" stroke-width="3"/>
<circle cx="363.6" cy="1733.2" r="6.1" fill="#807f7e"/>
<text x="399.5" y="1743.5" font-size="30.5" font-weight="normal" text-anchor="start" fill="#000" textLength="92.1" lengthAdjust="spacingAndGlyphs">control</text>
<line x1="553.6" y1="1732.7" x2="588" y2="1732.7" stroke="#3cb81c" stroke-width="3"/>
<rect x="564.2" y="1726" width="12.9" height="12.9" fill="#3cb81c"/>
<text x="606.5" y="1743" font-size="30.5" font-weight="normal" text-anchor="start" fill="#000" textLength="133.8" lengthAdjust="spacingAndGlyphs">co-culture</text>
<line x1="828" y1="1731.1" x2="862.4" y2="1731.1" stroke="#3a3a9e" stroke-width="3"/>
<path d="M845.2 1724.4L852 1737.4L838.4 1737.4Z" fill="#3a3a9e"/>
<text x="881.5" y="1742" font-size="30.5" font-weight="normal" text-anchor="start" fill="#000" textLength="87.4" lengthAdjust="spacingAndGlyphs">BeWo</text>
<line x1="1034" y1="1732.2" x2="1066.8" y2="1732.2" stroke="#e3261c" stroke-width="3"/>
<path d="M1043.9 1726L1056.5 1726L1050.2 1738.5Z" fill="#e3261c"/>
<text x="1085" y="1742" font-size="30.5" font-weight="normal" text-anchor="start" fill="#000" textLength="81.2" lengthAdjust="spacingAndGlyphs">HPEC</text>
</svg></body></html>
